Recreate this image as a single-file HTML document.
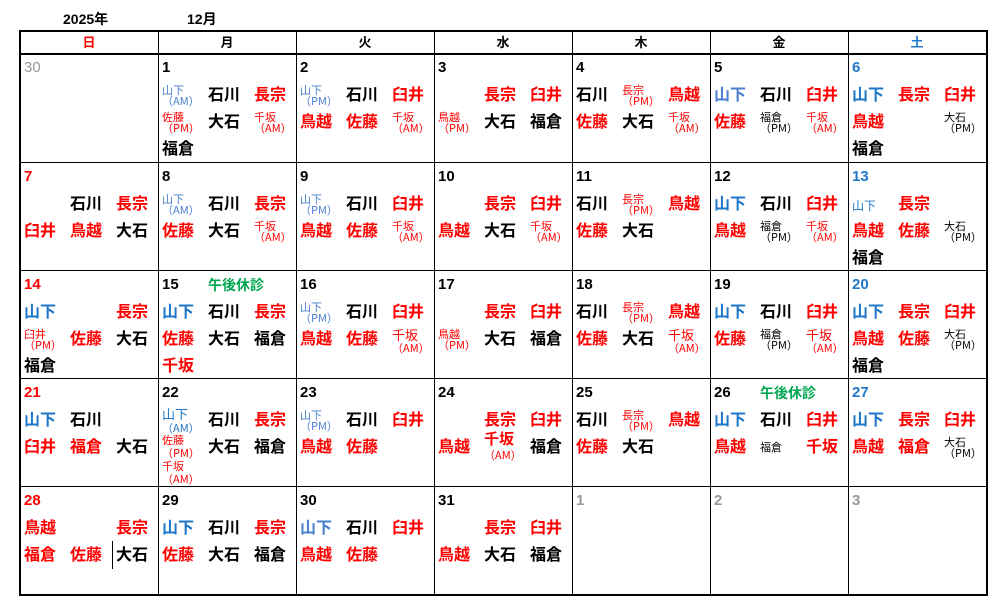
<!DOCTYPE html>
<html><head><meta charset="utf-8"><style>
body{margin:0;width:1001px;height:615px;background:#fff;position:relative;overflow:hidden;font-family:"Liberation Sans","Noto Sans CJK JP",sans-serif;}
.t{position:absolute;font-size:14px;font-weight:bold;top:9px;}
.hl{position:absolute;background:#000;}
.hd{position:absolute;top:33px;height:20px;width:138px;text-align:center;font-size:13px;font-weight:bold;line-height:20px;}
.c{position:absolute;width:138px;height:108px;}
.d{position:absolute;left:4px;top:5px;font-size:15px;font-weight:bold;line-height:18px;}
.i{position:absolute;font-size:16px;font-weight:bold;line-height:20px;white-space:nowrap;}
.s{position:absolute;font-family:"Noto Sans CJK JP",sans-serif;font-size:11px;font-weight:normal;line-height:11px;white-space:nowrap;}
.c0{left:4px}.c1{left:50px}.c2{left:96px}
.i.r1{top:32px}.i.r2{top:59px}.i.r3{top:86px}
.s.r1{top:31px}.s.r2{top:58px}.s.r3{top:85px}
.R{color:#ff0000}.B{color:#1f77c8}.L{color:#4a7fd0}.K{color:#000}.G{color:#00a651}.g{color:#999;font-weight:normal}
</style></head><body>
<div class="t" style="left:63px">2025年</div>
<div class="t" style="left:187px">12月</div>
<div class="hl" style="left:19px;top:30px;width:969px;height:2px"></div>
<div class="hl" style="left:19px;top:53px;width:969px;height:2px"></div>
<div class="hl" style="left:19px;top:162px;width:969px;height:1px"></div>
<div class="hl" style="left:19px;top:270px;width:969px;height:1px"></div>
<div class="hl" style="left:19px;top:378px;width:969px;height:1px"></div>
<div class="hl" style="left:19px;top:486px;width:969px;height:1px"></div>
<div class="hl" style="left:19px;top:594px;width:969px;height:2px"></div>
<div class="hl" style="left:19px;top:30px;width:2px;height:566px"></div>
<div class="hl" style="left:158px;top:30px;width:1px;height:566px"></div>
<div class="hl" style="left:296px;top:30px;width:1px;height:566px"></div>
<div class="hl" style="left:434px;top:30px;width:1px;height:566px"></div>
<div class="hl" style="left:572px;top:30px;width:1px;height:566px"></div>
<div class="hl" style="left:710px;top:30px;width:1px;height:566px"></div>
<div class="hl" style="left:848px;top:30px;width:1px;height:566px"></div>
<div class="hl" style="left:986px;top:30px;width:2px;height:566px"></div>
<div class="hl" style="left:112px;top:541px;width:1px;height:28px"></div>
<div class="hd R" style="left:20px">日</div>
<div class="hd" style="left:158px">月</div>
<div class="hd" style="left:296px">火</div>
<div class="hd" style="left:434px">水</div>
<div class="hd" style="left:572px">木</div>
<div class="hd" style="left:710px">金</div>
<div class="hd B" style="left:848px">土</div>

<div class="c" style="left:20px;top:54px"><div class="d g">30</div></div>
<div class="c" style="left:158px;top:54px"><div class="d">1</div>
<div class="s r1 c0 L">山下<br>（AM）</div><div class="i r1 c1 K">石川</div><div class="i r1 c2 R">長宗</div>
<div class="s r2 c0 R">佐藤<br>（PM）</div><div class="i r2 c1 K">大石</div><div class="s r2 c2 R">千坂<br>（AM）</div>
<div class="i r3 c0 K">福倉</div></div>
<div class="c" style="left:296px;top:54px"><div class="d">2</div>
<div class="s r1 c0 L">山下<br>（PM）</div><div class="i r1 c1 K">石川</div><div class="i r1 c2 R">臼井</div>
<div class="i r2 c0 R">鳥越</div><div class="i r2 c1 R">佐藤</div><div class="s r2 c2 R">千坂<br>（AM）</div></div>
<div class="c" style="left:434px;top:54px"><div class="d">3</div>
<div class="i r1 c1 R">長宗</div><div class="i r1 c2 R">臼井</div>
<div class="s r2 c0 R">鳥越<br>（PM）</div><div class="i r2 c1 K">大石</div><div class="i r2 c2 K">福倉</div></div>
<div class="c" style="left:572px;top:54px"><div class="d">4</div>
<div class="i r1 c0 K">石川</div><div class="s r1 c1 R">長宗<br>（PM）</div><div class="i r1 c2 R">鳥越</div>
<div class="i r2 c0 R">佐藤</div><div class="i r2 c1 K">大石</div><div class="s r2 c2 R">千坂<br>（AM）</div></div>
<div class="c" style="left:710px;top:54px"><div class="d">5</div>
<div class="i r1 c0 L">山下</div><div class="i r1 c1 K">石川</div><div class="i r1 c2 R">臼井</div>
<div class="i r2 c0 R">佐藤</div><div class="s r2 c1 K">福倉<br>（PM）</div><div class="s r2 c2 R">千坂<br>（AM）</div></div>
<div class="c" style="left:848px;top:54px"><div class="d B">6</div>
<div class="i r1 c0 B">山下</div><div class="i r1 c1 R">長宗</div><div class="i r1 c2 R">臼井</div>
<div class="i r2 c0 R">鳥越</div><div class="s r2 c2 K">大石<br>（PM）</div>
<div class="i r3 c0 K">福倉</div></div>

<div class="c" style="left:20px;top:163px"><div class="d R">7</div>
<div class="i r1 c1 K">石川</div><div class="i r1 c2 R">長宗</div>
<div class="i r2 c0 R">臼井</div><div class="i r2 c1 R">鳥越</div><div class="i r2 c2 K">大石</div></div>
<div class="c" style="left:158px;top:163px"><div class="d">8</div>
<div class="s r1 c0 L">山下<br>（AM）</div><div class="i r1 c1 K">石川</div><div class="i r1 c2 R">長宗</div>
<div class="i r2 c0 R">佐藤</div><div class="i r2 c1 K">大石</div><div class="s r2 c2 R">千坂<br>（AM）</div></div>
<div class="c" style="left:296px;top:163px"><div class="d">9</div>
<div class="s r1 c0 L">山下<br>（PM）</div><div class="i r1 c1 K">石川</div><div class="i r1 c2 R">臼井</div>
<div class="i r2 c0 R">鳥越</div><div class="i r2 c1 R">佐藤</div><div class="s r2 c2 R">千坂<br>（AM）</div></div>
<div class="c" style="left:434px;top:163px"><div class="d">10</div>
<div class="i r1 c1 R">長宗</div><div class="i r1 c2 R">臼井</div>
<div class="i r2 c0 R">鳥越</div><div class="i r2 c1 K">大石</div><div class="s r2 c2 R">千坂<br>（AM）</div></div>
<div class="c" style="left:572px;top:163px"><div class="d">11</div>
<div class="i r1 c0 K">石川</div><div class="s r1 c1 R">長宗<br>（PM）</div><div class="i r1 c2 R">鳥越</div>
<div class="i r2 c0 R">佐藤</div><div class="i r2 c1 K">大石</div></div>
<div class="c" style="left:710px;top:163px"><div class="d">12</div>
<div class="i r1 c0 B">山下</div><div class="i r1 c1 K">石川</div><div class="i r1 c2 R">臼井</div>
<div class="i r2 c0 R">鳥越</div><div class="s r2 c1 K">福倉<br>（PM）</div><div class="s r2 c2 R">千坂<br>（AM）</div></div>
<div class="c" style="left:848px;top:163px"><div class="d B">13</div>
<div class="s c0 B" style="top:36px;font-size:12px;line-height:13px">山下</div><div class="i r1 c1 R">長宗</div>
<div class="i r2 c0 R">鳥越</div><div class="i r2 c1 R">佐藤</div><div class="s r2 c2 K">大石<br>（PM）</div>
<div class="i r3 c0 K">福倉</div></div>

<div class="c" style="left:20px;top:271px"><div class="d R">14</div>
<div class="i r1 c0 B">山下</div><div class="i r1 c2 R">長宗</div>
<div class="s r2 c0 R">臼井<br>（PM）</div><div class="i r2 c1 R">佐藤</div><div class="i r2 c2 K">大石</div>
<div class="i r3 c0 K">福倉</div></div>
<div class="c" style="left:158px;top:271px"><div class="d">15</div><div class="i G" style="left:50px;top:4px;font-size:14px">午後休診</div>
<div class="i r1 c0 B">山下</div><div class="i r1 c1 K">石川</div><div class="i r1 c2 R">長宗</div>
<div class="i r2 c0 R">佐藤</div><div class="i r2 c1 K">大石</div><div class="i r2 c2 K">福倉</div>
<div class="i r3 c0 R">千坂</div></div>
<div class="c" style="left:296px;top:271px"><div class="d">16</div>
<div class="s r1 c0 L">山下<br>（PM）</div><div class="i r1 c1 K">石川</div><div class="i r1 c2 R">臼井</div>
<div class="i r2 c0 R">鳥越</div><div class="i r2 c1 R">佐藤</div><div class="s r2 c2 R" style="font-size:13px;line-height:12px">千坂<br><span style="font-size:11px">（AM）</span></div></div>
<div class="c" style="left:434px;top:271px"><div class="d">17</div>
<div class="i r1 c1 R">長宗</div><div class="i r1 c2 R">臼井</div>
<div class="s r2 c0 R">鳥越<br>（PM）</div><div class="i r2 c1 K">大石</div><div class="i r2 c2 K">福倉</div></div>
<div class="c" style="left:572px;top:271px"><div class="d">18</div>
<div class="i r1 c0 K">石川</div><div class="s r1 c1 R">長宗<br>（PM）</div><div class="i r1 c2 R">鳥越</div>
<div class="i r2 c0 R">佐藤</div><div class="i r2 c1 K">大石</div><div class="s r2 c2 R" style="font-size:13px;line-height:12px">千坂<br><span style="font-size:11px">（AM）</span></div></div>
<div class="c" style="left:710px;top:271px"><div class="d">19</div>
<div class="i r1 c0 B">山下</div><div class="i r1 c1 K">石川</div><div class="i r1 c2 R">臼井</div>
<div class="i r2 c0 R">佐藤</div><div class="s r2 c1 K">福倉<br>（PM）</div><div class="s r2 c2 R" style="font-size:13px;line-height:12px">千坂<br><span style="font-size:11px">（AM）</span></div></div>
<div class="c" style="left:848px;top:271px"><div class="d B">20</div>
<div class="i r1 c0 B">山下</div><div class="i r1 c1 R">長宗</div><div class="i r1 c2 R">臼井</div>
<div class="i r2 c0 R">鳥越</div><div class="i r2 c1 R">佐藤</div><div class="s r2 c2 K">大石<br>（PM）</div>
<div class="i r3 c0 K">福倉</div></div>

<div class="c" style="left:20px;top:379px"><div class="d R">21</div>
<div class="i r1 c0 B">山下</div><div class="i r1 c1 K">石川</div>
<div class="i r2 c0 R">臼井</div><div class="i r2 c1 R">福倉</div><div class="i r2 c2 K">大石</div></div>
<div class="c" style="left:158px;top:379px"><div class="d">22</div>
<div class="s c0 B" style="top:28px;font-size:13px;line-height:13px">山下<br><span style="font-size:11px">（AM）</span></div><div class="i r1 c1 K">石川</div><div class="i r1 c2 R">長宗</div>
<div class="s c0 R" style="top:55px;line-height:13px">佐藤<br>（PM）<br>千坂<br>（AM）</div><div class="i r2 c1 K">大石</div><div class="i r2 c2 K">福倉</div></div>
<div class="c" style="left:296px;top:379px"><div class="d">23</div>
<div class="s r1 c0 L">山下<br>（PM）</div><div class="i r1 c1 K">石川</div><div class="i r1 c2 R">臼井</div>
<div class="i r2 c0 R">鳥越</div><div class="i r2 c1 R">佐藤</div></div>
<div class="c" style="left:434px;top:379px"><div class="d">24</div>
<div class="i r1 c1 R">長宗</div><div class="i r1 c2 R">臼井</div>
<div class="i r2 c0 R">鳥越</div><div class="s c1 R" style="top:52px;font-size:15px;line-height:15px;font-weight:bold">千坂<br><span style="font-size:11px;font-weight:normal">（AM）</span></div><div class="i r2 c2 K">福倉</div></div>
<div class="c" style="left:572px;top:379px"><div class="d">25</div>
<div class="i r1 c0 K">石川</div><div class="s r1 c1 R">長宗<br>（PM）</div><div class="i r1 c2 R">鳥越</div>
<div class="i r2 c0 R">佐藤</div><div class="i r2 c1 K">大石</div></div>
<div class="c" style="left:710px;top:379px"><div class="d">26</div><div class="i G" style="left:50px;top:4px;font-size:14px">午後休診</div>
<div class="i r1 c0 B">山下</div><div class="i r1 c1 K">石川</div><div class="i r1 c2 R">臼井</div>
<div class="i r2 c0 R">鳥越</div><div class="s c1 K" style="top:63px">福倉</div><div class="i r2 c2 R">千坂</div></div>
<div class="c" style="left:848px;top:379px"><div class="d B">27</div>
<div class="i r1 c0 B">山下</div><div class="i r1 c1 R">長宗</div><div class="i r1 c2 R">臼井</div>
<div class="i r2 c0 R">鳥越</div><div class="i r2 c1 R">福倉</div><div class="s r2 c2 K">大石<br>（PM）</div></div>

<div class="c" style="left:20px;top:487px"><div class="d R">28</div>
<div class="i r1 c0 R">鳥越</div><div class="i r1 c2 R">長宗</div>
<div class="i r2 c0 R">福倉</div><div class="i r2 c1 R">佐藤</div><div class="i r2 c2 K">大石</div></div>
<div class="c" style="left:158px;top:487px"><div class="d">29</div>
<div class="i r1 c0 B">山下</div><div class="i r1 c1 K">石川</div><div class="i r1 c2 R">長宗</div>
<div class="i r2 c0 R">佐藤</div><div class="i r2 c1 K">大石</div><div class="i r2 c2 K">福倉</div></div>
<div class="c" style="left:296px;top:487px"><div class="d">30</div>
<div class="i r1 c0 L">山下</div><div class="i r1 c1 K">石川</div><div class="i r1 c2 R">臼井</div>
<div class="i r2 c0 R">鳥越</div><div class="i r2 c1 R">佐藤</div></div>
<div class="c" style="left:434px;top:487px"><div class="d">31</div>
<div class="i r1 c1 R">長宗</div><div class="i r1 c2 R">臼井</div>
<div class="i r2 c0 R">鳥越</div><div class="i r2 c1 K">大石</div><div class="i r2 c2 K">福倉</div></div>
<div class="c" style="left:572px;top:487px"><div class="d g" style="font-weight:bold">1</div></div>
<div class="c" style="left:710px;top:487px"><div class="d g" style="font-weight:bold">2</div></div>
<div class="c" style="left:848px;top:487px"><div class="d g" style="font-weight:bold">3</div></div>
</body></html>
